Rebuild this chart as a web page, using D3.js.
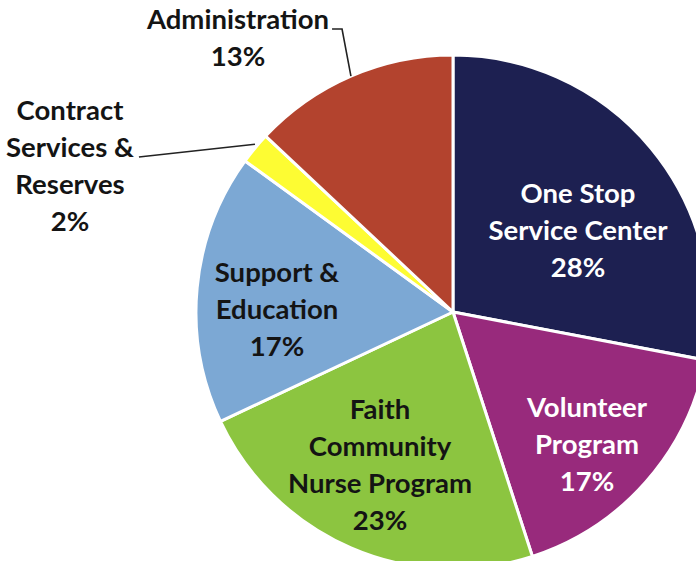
<!DOCTYPE html>
<html>
<head>
<meta charset="utf-8">
<script src="https://cdn.jsdelivr.net/npm/d3@7"></script>
<style>
  html, body { margin: 0; padding: 0; background: #fff; }
  svg { display: block; }
  text { font-family: Lato, "Open Sans", sans-serif; font-weight: bold; }
</style>
</head>
<body>
<div id="canvas"></div>
<script>
// slice data, clockwise from 12 o'clock
const categories = ["One Stop Service Center", "Volunteer Program", "Faith Community Nurse Program",
                    "Support & Education", "Contract Services & Reserves", "Administration"];
const values = [28, 17, 23, 17, 2, 13];
const labelLines = [
    ["One Stop", "Service Center", "28%"],
    ["Volunteer", "Program", "17%"],
    ["Faith", "Community", "Nurse Program", "23%"],
    ["Support &", "Education", "17%"],
    ["Contract", "Services &", "Reserves", "2%"],
    ["Administration", "13%"]
];
const colors = ["#1d2051", "#982a7c", "#8cc540", "#7ca8d4", "#fdfc33", "#b3432e"];
const textColors = ["#fff", "#fff", "#141414", "#141414", "#141414", "#141414"];

// layout: first baseline of each label, relative to the pie centre
const labelOffsets = [[125, -109], [134, 105], [-73, 107], [-176, -30], [-383, -192], [-215, -283]];

const width = 696, height = 561;
const cx = 453, cy = 312, R = 257;
const lineH = 37;

const svg = d3.select("#canvas").append("svg")
    .attr("width", width)
    .attr("height", height);

const g = svg.append("g").attr("transform", `translate(${cx},${cy})`);

const pie = d3.pie().sort(null).value(d => d.value);
const arcs = pie(categories.map((c, i) => ({ name: c, value: values[i], i: i })));

const arc = d3.arc().innerRadius(0).outerRadius(R);
const edge = d3.arc().innerRadius(R).outerRadius(R);

g.selectAll("path.slice").data(arcs)
    .enter().append("path")
    .attr("class", "slice")
    .attr("d", arc)
    .attr("fill", d => colors[d.data.i])
    .attr("stroke", "#fff")
    .attr("stroke-width", 3)
    .attr("stroke-linejoin", "round");

const labels = g.selectAll("text.label").data(arcs)
    .enter().append("text")
    .attr("class", "label")
    .attr("text-anchor", "middle")
    .attr("font-size", 27.5)
    .attr("fill", d => textColors[d.data.i])
    .attr("x", d => labelOffsets[d.data.i][0])
    .attr("y", d => labelOffsets[d.data.i][1]);

labels.selectAll("tspan")
    .data(d => labelLines[d.data.i].map((l, k) => ({ l: l, k: k, x: labelOffsets[d.data.i][0] })))
    .enter().append("tspan")
    .attr("x", t => t.x)
    .attr("dy", t => t.k === 0 ? 0 : lineH)
    .text(t => t.l);

// leader lines for the two outside labels
const admin = arcs[5], contract = arcs[4];
const adminEnd = edge.centroid(admin);
const adminFirst = labels.filter(d => d.data.i === 5).select("tspan").node();
const adminW = adminFirst.getComputedTextLength();
const ax = labelOffsets[5][0] + adminW / 2 + 3, ay = labelOffsets[5][1];
g.append("polyline")
    .attr("points", [[ax, ay], [ax + 10, ay], adminEnd].map(p => p.join(",")).join(" "))
    .attr("fill", "none")
    .attr("stroke", "#222")
    .attr("stroke-width", 1.6);

const cEnd = edge.centroid(contract);
const contractSecond = labels.filter(d => d.data.i === 4).selectAll("tspan").nodes()[1];
const cw = contractSecond.getComputedTextLength();
g.append("line")
    .attr("x1", labelOffsets[4][0] + cw / 2 + 5)
    .attr("y1", labelOffsets[4][1] + lineH)
    .attr("x2", cEnd[0])
    .attr("y2", cEnd[1] - 4)
    .attr("stroke", "#222")
    .attr("stroke-width", 1.6);
</script>
</body>
</html>
